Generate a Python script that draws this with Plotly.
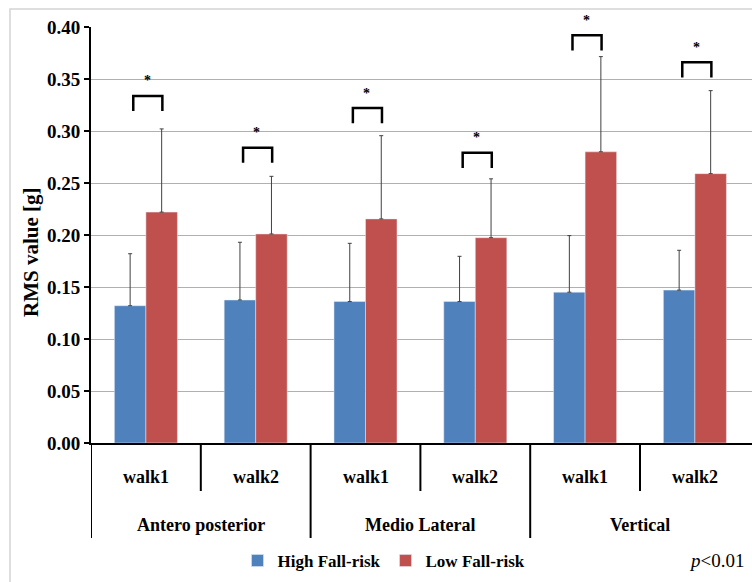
import plotly.graph_objects as go

# ---- data ----
walks = ["walk1", "walk2", "walk1", "walk2", "walk1", "walk2"]
directions = ["Antero posterior", "Medio Lateral", "Vertical"]
series_names = ["High Fall-risk", "Low Fall-risk"]
high_risk = [0.132, 0.1375, 0.136, 0.136, 0.145, 0.147]
high_risk_sd = [0.050, 0.0555, 0.056, 0.0435, 0.0544, 0.0383]
low_risk = [0.222, 0.201, 0.2155, 0.1974, 0.280, 0.259]
low_risk_sd = [0.080, 0.0554, 0.080, 0.0566, 0.0915, 0.0798]
sig_levels = [0.3337, 0.284, 0.322, 0.279, 0.392, 0.366]
sig_label = "*"
y_ticks = [0.00, 0.05, 0.10, 0.15, 0.20, 0.25, 0.30, 0.35, 0.40]

# ---- layout constants ----
W, H = 752, 582
ML, MR, MT, MB = 91, 0, 27, 139
PW, PH = W - ML - MR, H - MT - MB
Y_RANGE = [0, 0.4]
FONT = "Liberation Serif"
BLUE, RED = "#4F81BD", "#C0504D"

def px_x(px):
    return (px - ML) / PW

def px_y(py):
    return (H - MB - py) / PH

def val_y(v):
    return (v - Y_RANGE[0]) / (Y_RANGE[1] - Y_RANGE[0])

xs = list(range(len(walks)))

fig = go.Figure()
fig.add_trace(go.Bar(
    x=xs, y=high_risk, name=series_names[0], marker_color=BLUE,
    error_y=dict(type="data", array=high_risk_sd, symmetric=False,
                 arrayminus=[0] * len(xs), color="#404040", thickness=1, width=2),
))
fig.add_trace(go.Bar(
    x=xs, y=low_risk, name=series_names[1], marker_color=RED,
    error_y=dict(type="data", array=low_risk_sd, symmetric=False,
                 arrayminus=[0] * len(xs), color="#404040", thickness=1, width=2),
))

shapes = []
annotations = []

# frame
shapes.append(dict(type="rect", xref="paper", yref="paper",
                   x0=px_x(10), x1=px_x(760), y0=px_y(590), y1=px_y(9),
                   line=dict(color="#d4d4d4", width=1.5), layer="below"))

# significance brackets
for i, lvl in enumerate(sig_levels):
    x0, x1 = i - 0.115, i + 0.15
    yb = lvl - 0.0145
    shapes.append(dict(type="path", xref="x", yref="y",
                       path=f"M {x0},{yb} L {x0},{lvl} L {x1},{lvl} L {x1},{yb}",
                       line=dict(color="black", width=2.5)))
    annotations.append(dict(x=i + 0.01, y=val_y(lvl + 0.0145), xref="x", yref="paper",
                            text=f"<b>{sig_label}</b>", showarrow=False,
                            font=dict(family=FONT, size=14, color="black"),
                            yanchor="middle"))

# category dividers
for i in range(len(walks)):
    xb = i - 0.5
    yend = px_y(538) if i % 2 == 0 else px_y(491)
    shapes.append(dict(type="line", xref="x", yref="paper",
                       x0=xb, x1=xb, y0=0, y1=yend,
                       line=dict(color="black", width=2)))

# walk labels
for i, w in enumerate(walks):
    annotations.append(dict(x=i, y=px_y(477), xref="x", yref="paper",
                            text=w, showarrow=False, yanchor="middle",
                            font=dict(family=FONT, size=18, color="black", weight="bold")))
# direction labels
for j, d in enumerate(directions):
    annotations.append(dict(x=2 * j + 0.5, y=px_y(525), xref="x", yref="paper",
                            text=d, showarrow=False, yanchor="middle",
                            font=dict(family=FONT, size=18, color="black", weight="bold")))

# y title
annotations.append(dict(x=px_x(31), y=px_y(252), xref="paper", yref="paper",
                        text="RMS value [g]", textangle=-90, showarrow=False,
                        xanchor="center", yanchor="middle",
                        font=dict(family=FONT, size=21, color="black", weight="bold")))
# p value
annotations.append(dict(x=px_x(716), y=px_y(560), xref="paper", yref="paper",
                        text="<i>p</i>&lt;0.01", showarrow=False,
                        xanchor="center", yanchor="middle",
                        font=dict(family=FONT, size=19, color="black")))

fig.update_layout(
    width=W, height=H,
    margin=dict(l=ML, r=MR, t=MT, b=MB, pad=0),
    paper_bgcolor="white", plot_bgcolor="white",
    barmode="group", bargap=0.426, bargroupgap=0,
    showlegend=True,
    legend=dict(orientation="h", x=px_x(384), xanchor="center",
                y=px_y(561), yanchor="middle",
                font=dict(family=FONT, size=17, color="black", weight="bold"),
                itemwidth=30, tracegroupgap=0, bgcolor="rgba(0,0,0,0)"),
    shapes=shapes, annotations=annotations,
    xaxis=dict(range=[-0.5, 5.52], showticklabels=False, showgrid=False,
               zeroline=False, showline=True, linecolor="black", linewidth=2,
               ticks="", fixedrange=True),
    yaxis=dict(range=Y_RANGE, tickvals=y_ticks, tickformat=".2f",
               showgrid=True, gridcolor="#b0b0b0", gridwidth=1,
               zeroline=False, showline=True, linecolor="black", linewidth=2,
               ticks="outside", ticklen=5, tickwidth=2, tickcolor="black",
               tickfont=dict(family=FONT, size=19, color="black", weight="bold"),
               fixedrange=True),
)

fig.write_html("out.html", config={"displayModeBar": False},
               post_script="document.body.style.margin='0';document.body.style.overflow='hidden';")
